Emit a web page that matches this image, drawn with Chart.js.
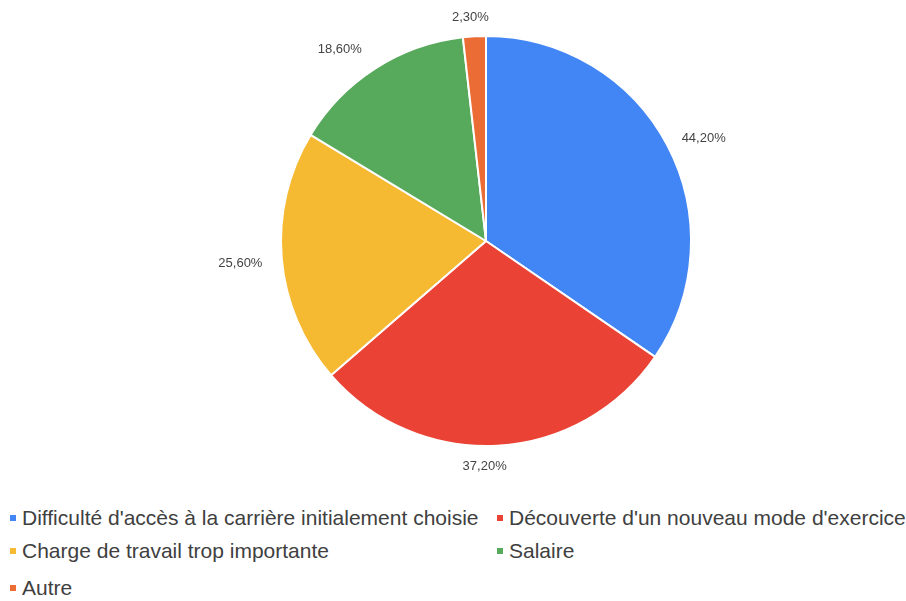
<!DOCTYPE html>
<html>
<head>
<meta charset="utf-8">
<script src="https://cdn.jsdelivr.net/npm/chart.js@4"></script>
<style>
  body { margin: 0; background: #fff; font-family: "Liberation Sans", Arial, sans-serif; }
  #wrap { position: relative; width: 906px; height: 601px; }
  #chart-box { position: absolute; left: 0; top: 0; width: 906px; height: 496px; }
  .leg { position: absolute; font-size: 21px; color: #404040; white-space: nowrap; line-height: 22px; }
  .leg i { display: inline-block; width: 6px; height: 6px; margin-right: 6px; vertical-align: 4px; }
</style>
</head>
<body>
<div id="wrap">
  <div id="chart-box"><canvas id="chart"></canvas></div>
  <div id="legend"></div>
</div>
<script>
const categories = [
  "Difficulté d'accès à la carrière initialement choisie",
  "Découverte d'un nouveau mode d'exercice",
  "Charge de travail trop importante",
  "Salaire",
  "Autre"
];
const values = [44.2, 37.2, 25.6, 18.6, 2.3];
const valueLabels = ["44,20%", "37,20%", "25,60%", "18,60%", "2,30%"];
const colors = ['#4285F4', '#EA4335', '#F5B932', '#57A95B', '#EB6C34'];

// position des entrées de légende (colonne, ligne)
const legendPos = [[10, 507], [497, 507], [10, 540], [497, 540], [10, 577]];
// petits décalages des étiquettes pour coller au placement d'origine
const labelNudge = [[6, 6], [-14, -1], [-7, -1], [-20, 2], [-3, -3]];

const legendEl = document.getElementById('legend');
categories.forEach(function (c, i) {
  const d = document.createElement('div');
  d.className = 'leg';
  d.style.left = legendPos[i][0] + 'px';
  d.style.top = legendPos[i][1] + 'px';
  d.innerHTML = '<i style="background:' + colors[i] + '"></i>' + c;
  legendEl.appendChild(d);
});

// étiquettes de pourcentage à l'extérieur du camembert
const outsideLabels = {
  id: 'outsideLabels',
  afterDatasetsDraw(chart) {
    const ctx = chart.ctx;
    const meta = chart.getDatasetMeta(0);
    ctx.save();
    ctx.font = '13px "Liberation Sans", Arial, sans-serif';
    ctx.fillStyle = '#444';
    ctx.textAlign = 'center';
    ctx.textBaseline = 'middle';
    meta.data.forEach(function (arc, i) {
      const mid = (arc.startAngle + arc.endAngle) / 2;
      const dx = Math.cos(mid), dy = Math.sin(mid);
      const w = ctx.measureText(valueLabels[i]).width;
      const r = arc.outerRadius + 12 + Math.abs(dx) * w / 2 + Math.abs(dy) * 6;
      ctx.fillText(valueLabels[i], arc.x + dx * r + labelNudge[i][0], arc.y + dy * r + 3 + labelNudge[i][1]);
    });
    ctx.restore();
  }
};

const ctx = document.getElementById('chart').getContext('2d');
new Chart(ctx, {
  type: 'pie',
  data: {
    labels: categories,
    datasets: [{
      data: values,
      backgroundColor: colors,
      borderColor: '#fff',
      borderWidth: 2
    }]
  },
  options: {
    responsive: true,
    maintainAspectRatio: false,
    animation: false,
    layout: { padding: { left: 66, right: 0, top: 35, bottom: 49 } },
    plugins: {
      legend: { display: false },
      tooltip: { enabled: false }
    }
  },
  plugins: [outsideLabels]
});
</script>
</body>
</html>
